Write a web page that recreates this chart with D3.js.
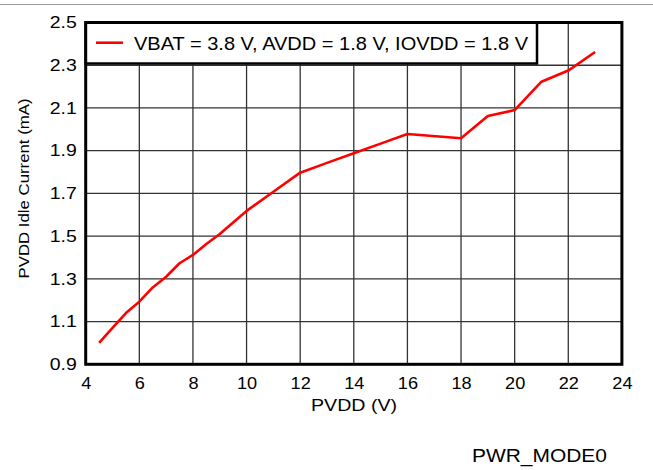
<!DOCTYPE html>
<html><head><meta charset="utf-8">
<script src="https://cdn.jsdelivr.net/npm/d3@7"></script>
<style>body{margin:0;background:#fff;}svg{display:block;font-family:"Liberation Sans",Arial,sans-serif;}</style>
</head><body><svg id="c" width="653" height="470"></svg>
<script>
const pvdd = [4.5,5,5.5,6,6.5,7,7.5,8,8.5,9,10,11,12,13,14,15,16,18,19,20,21,22,23];
const current = [1.0,1.07,1.14,1.193,1.26,1.31,1.373,1.412,1.463,1.51,1.618,1.708,1.797,1.843,1.888,1.933,1.978,1.958,2.062,2.09,2.223,2.275,2.362];
const xTicks = [4,6,8,10,12,14,16,18,20,22,24];
const yTicks = [0.9,1.1,1.3,1.5,1.7,1.9,2.1,2.3,2.5];
const legendLabel = "VBAT = 3.8 V, AVDD = 1.8 V, IOVDD = 1.8 V";
const xTitle = "PVDD (V)", yTitle = "PVDD Idle Current (mA)", note = "PWR_MODE0";

function stretch(sel, f){ sel.each(function(){ const w=this.getComputedTextLength(); this.setAttribute("textLength", w*f); this.setAttribute("lengthAdjust","spacingAndGlyphs"); }); }
function fitTo(sel, w){ sel.attr("textLength", w).attr("lengthAdjust","spacingAndGlyphs"); }

const svg = d3.select("#c");
const L=85.7,R=621.9,T=22.5,B=364.3;
const x = d3.scaleLinear().domain([4,24]).range([L,R]);
const y = d3.scaleLinear().domain([0.9,2.5]).range([B,T]);

svg.append("line").attr("x1",0).attr("x2",653).attr("y1",4.5).attr("y2",4.5).attr("stroke","#9a9a9a").attr("stroke-width",1);

const g = svg.append("g");
g.selectAll(".vx").data(xTicks.slice(1,-1)).join("line")
 .attr("x1",d=>x(d)).attr("x2",d=>x(d)).attr("y1",T).attr("y2",B).attr("stroke","#333").attr("stroke-width",1.3);
g.selectAll(".hy").data(yTicks.slice(1,-1)).join("line")
 .attr("x1",L).attr("x2",R).attr("y1",d=>y(d)).attr("y2",d=>y(d)).attr("stroke","#333").attr("stroke-width",1.3);

const xa = svg.append("g").attr("transform",`translate(0,${B})`)
 .call(d3.axisBottom(x).tickValues(xTicks).tickSize(0).tickPadding(13).tickFormat(d3.format("d")));
xa.select(".domain").remove();
xa.selectAll("text").attr("font-size",16.5).attr("fill","#000").attr("font-family","Liberation Sans, Arial, sans-serif");
stretch(xa.selectAll("text"),1.1);
const ya = svg.append("g").attr("transform",`translate(${L},0)`)
 .call(d3.axisLeft(y).tickValues(yTicks).tickSize(0).tickPadding(9).tickFormat(d3.format(".1f")));
ya.select(".domain").remove();
ya.selectAll("text").attr("font-size",16.5).attr("fill","#000").attr("font-family","Liberation Sans, Arial, sans-serif");
stretch(ya.selectAll("text"),1.18);

svg.append("path").datum(pvdd.map((v,i)=>[v,current[i]]))
 .attr("d",d3.line().x(d=>x(d[0])).y(d=>y(d[1])))
 .attr("fill","none").attr("stroke","#ff0000").attr("stroke-width",2.6).attr("stroke-linejoin","round");

// legend box
svg.append("rect").attr("x",L).attr("y",T).attr("width",537-L).attr("height",63.5-T)
 .attr("fill","#fff").attr("stroke","#000").attr("stroke-width",2.5);
svg.append("line").attr("x1",96).attr("x2",123).attr("y1",42.7).attr("y2",42.7).attr("stroke","#ff0000").attr("stroke-width",2.6);
fitTo(svg.append("text").attr("x",134).attr("y",49.5).attr("font-size",18.5).attr("fill","#000").text(legendLabel), 394);

svg.append("rect").attr("x",L).attr("y",T).attr("width",R-L).attr("height",B-T)
 .attr("fill","none").attr("stroke","#000").attr("stroke-width",3);

fitTo(svg.append("text").attr("x",311).attr("y",411).attr("font-size",16.5).text(xTitle), 86);
fitTo(svg.append("text").attr("transform","translate(28.5,278.5) rotate(-90)").attr("font-size",15.5).text(yTitle), 180);
fitTo(svg.append("text").attr("x",472).attr("y",462).attr("font-size",19).text(note), 135);
</script></body></html>
